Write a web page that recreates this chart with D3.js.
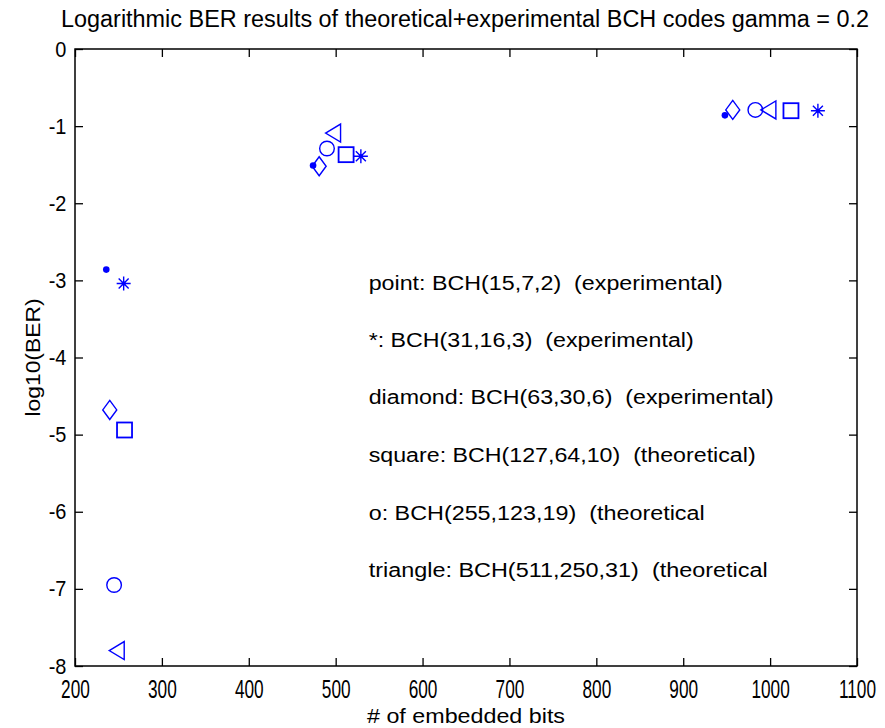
<!DOCTYPE html>
<html>
<head>
<meta charset="utf-8">
<script src="https://cdn.jsdelivr.net/npm/d3@7"></script>
<style>
  html, body { margin: 0; padding: 0; background: #fff; }
  text { font-family: "Liberation Sans", Arial, Helvetica, sans-serif; fill: #000; }
</style>
</head>
<body>
<svg id="chart" width="885" height="728"></svg>
<script>
// Embedded bits (x) and log10(BER) (y) for each BCH code
const bitsPoint    = [236, 474, 948];
const berPoint     = [-2.86, -1.51, -0.86];
const bitsStar     = [256, 529, 1055];
const berStar      = [-3.04, -1.39, -0.80];
const bitsDiamond  = [240, 481, 957];
const berDiamond   = [-4.68, -1.52, -0.79];
const bitsSquare   = [257, 512, 1024];
const berSquare    = [-4.94, -1.37, -0.80];
const bitsCircle   = [245, 490, 983];
const berCircle    = [-6.95, -1.29, -0.79];
const bitsTriangle = [248, 497, 998];
const berTriangle  = [-7.80, -1.09, -0.79];

// Annotation text and where it sits in data coordinates
const noteLines = [
  "point: BCH(15,7,2)  (experimental)",
  "*: BCH(31,16,3)  (experimental)",
  "diamond: BCH(63,30,6)  (experimental)",
  "square: BCH(127,64,10)  (theoretical)",
  "o: BCH(255,123,19)  (theoretical",
  "triangle: BCH(511,250,31)  (theoretical"
];
const noteX = 538;
const noteY = [-3.03, -3.77, -4.51, -5.26, -6.02, -6.76];
// rendered width of each annotation line, px
const noteWidths = [354, 325, 405, 387, 336, 399];

const xTicks = [200, 300, 400, 500, 600, 700, 800, 900, 1000, 1100];
const yTicks = [0, -1, -2, -3, -4, -5, -6, -7, -8];

const W = 885, H = 728;
const margin = { left: 75, top: 49, right: 28, bottom: 62 };
const iw = W - margin.left - margin.right;
const ih = H - margin.top - margin.bottom;
const blue = "#0000ff";

const svg = d3.select("#chart");
const g = svg.append("g").attr("transform", `translate(${margin.left},${margin.top})`);

const x = d3.scaleLinear().domain([200, 1100]).range([0, iw]);
const y = d3.scaleLinear().domain([-8, 0]).range([ih, 0]);

// Axes with inward ticks on all four sides
const tickLen = 8;
const fmt = d => String(d);
const axB = g.append("g").attr("transform", `translate(0,${ih})`)
  .call(d3.axisBottom(x).tickValues(xTicks).tickFormat(fmt).tickSizeInner(-tickLen).tickSizeOuter(0).tickPadding(6));
const axL = g.append("g")
  .call(d3.axisLeft(y).tickValues(yTicks).tickFormat(fmt).tickSizeInner(-tickLen).tickSizeOuter(0).tickPadding(9));
const axT = g.append("g")
  .call(d3.axisTop(x).tickValues(xTicks).tickFormat("").tickSizeInner(-tickLen).tickSizeOuter(0));
const axR = g.append("g").attr("transform", `translate(${iw},0)`)
  .call(d3.axisRight(y).tickValues(yTicks).tickFormat("").tickSizeInner(-tickLen).tickSizeOuter(0));

[axB, axL, axT, axR].forEach(a => {
  a.select(".domain").remove();
  a.selectAll("line").attr("stroke", "#000").attr("stroke-width", 1.3);
  a.selectAll("text").attr("fill", "#000")
    .attr("font-family", "'Liberation Sans', Arial, sans-serif");
});
axL.selectAll("text").attr("font-size", 21).attr("transform", "scale(0.95,1.05)");
// bottom tick labels are narrow and tall
axB.selectAll("text").attr("font-size", 23).attr("y", 0).attr("dy", 0)
  .attr("transform", "translate(0,32) scale(0.75,1.1)");

g.append("rect").attr("x", 0).attr("y", 0).attr("width", iw).attr("height", ih)
  .attr("fill", "none").attr("stroke", "#000").attr("stroke-width", 1.5);

// Marker shapes
const mk = g.append("g").attr("fill", "none").attr("stroke", blue).attr("stroke-width", 1.4);

function pairs(xs, ys) { return xs.map((v, i) => [x(v), y(ys[i])]); }

pairs(bitsPoint, berPoint).forEach(([px, py]) => {
  mk.append("circle").attr("cx", px).attr("cy", py).attr("r", 3.3).attr("fill", blue).attr("stroke", "none");
});

pairs(bitsStar, berStar).forEach(([px, py]) => {
  const r = 7, d = 5;
  mk.append("path").attr("d",
    `M${px - r},${py}H${px + r}M${px},${py - r}V${py + r}` +
    `M${px - d},${py - d}L${px + d},${py + d}M${px - d},${py + d}L${px + d},${py - d}`);
  mk.append("circle").attr("cx", px).attr("cy", py).attr("r", 2).attr("fill", blue).attr("stroke", "none");
});

pairs(bitsDiamond, berDiamond).forEach(([px, py]) => {
  const hw = 7, hh = 9.5;
  mk.append("path").attr("d", `M${px},${py - hh}L${px + hw},${py}L${px},${py + hh}L${px - hw},${py}Z`);
});

pairs(bitsSquare, berSquare).forEach(([px, py]) => {
  const s = 7.5;
  mk.append("rect").attr("x", px - s).attr("y", py - s).attr("width", 2 * s).attr("height", 2 * s)
    .attr("stroke-width", 1.8);
});

pairs(bitsCircle, berCircle).forEach(([px, py]) => {
  mk.append("circle").attr("cx", px).attr("cy", py).attr("r", 7.3);
});

pairs(bitsTriangle, berTriangle).forEach(([px, py]) => {
  const hw = 7.5, hh = 9;
  mk.append("path").attr("d", `M${px - hw},${py}L${px + hw},${py - hh}L${px + hw},${py + hh}Z`);
});

// Annotations
g.append("g").selectAll("text").data(noteLines).join("text")
  .attr("x", x(noteX))
  .attr("y", (d, i) => y(noteY[i]))
  .attr("dy", "0.35em")
  .attr("font-size", 20)
  .attr("textLength", (d, i) => noteWidths[i])
  .attr("lengthAdjust", "spacingAndGlyphs")
  .style("white-space", "pre")
  .attr("xml:space", "preserve")
  .text(d => d);

// Title and axis labels (tall, narrow lettering)
svg.append("text")
  .attr("transform", `translate(${margin.left + iw / 2 - 1},27) scale(1,1.1)`)
  .attr("text-anchor", "middle").attr("font-size", 21)
  .attr("textLength", 808).attr("lengthAdjust", "spacingAndGlyphs")
  .text("Logarithmic BER results of theoretical+experimental BCH codes gamma = 0.2");

svg.append("text")
  .attr("transform", `translate(${margin.left + iw / 2},723) scale(1,1.05)`)
  .attr("text-anchor", "middle").attr("font-size", 20)
  .attr("textLength", 198).attr("lengthAdjust", "spacingAndGlyphs")
  .text("# of embedded bits");

svg.append("text").attr("transform", `translate(40,${margin.top + ih / 2}) rotate(-90)`)
  .attr("text-anchor", "middle").attr("font-size", 20)
  .attr("textLength", 118).attr("lengthAdjust", "spacingAndGlyphs")
  .text("log10(BER)");
</script>
</body>
</html>
